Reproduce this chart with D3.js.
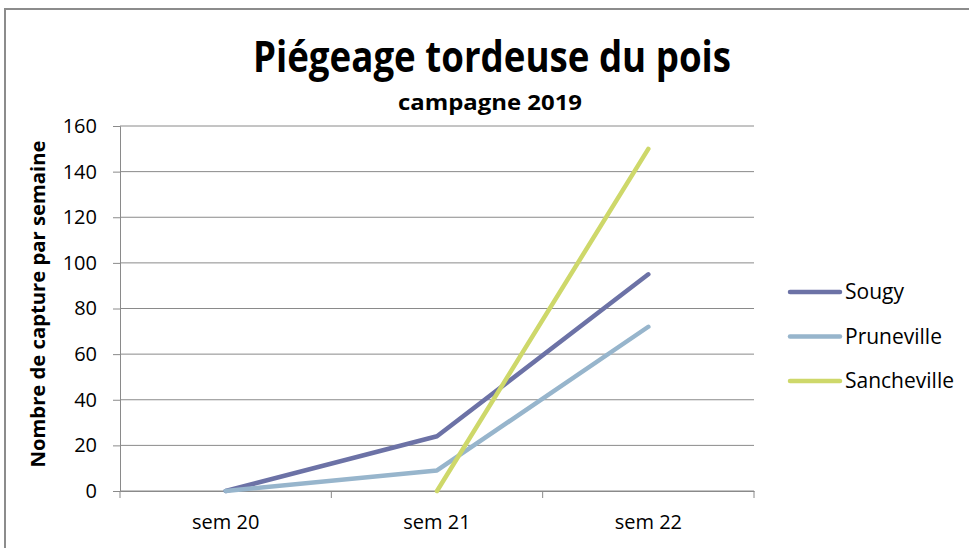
<!DOCTYPE html>
<html>
<head>
<meta charset="utf-8">
<script src="https://cdn.jsdelivr.net/npm/d3@7"></script>
<style>
  body { margin: 0; background: #fff; }
  text { font-family: "Open Sans", "Noto Sans", sans-serif; fill: #000; }
</style>
</head>
<body>
<div id="chart"></div>
<script>
// data
const weeks = ["sem 20", "sem 21", "sem 22"];
const sougy = [0, 24, 95];
const pruneville = [0, 9, 72];
const sancheville = [null, 0, 150];
const seriesNames = ["Sougy", "Pruneville", "Sancheville"];
const seriesColors = ["#6c72a6", "#97b5cc", "#ced86a"];
const yTicks = [0, 20, 40, 60, 80, 100, 120, 140, 160];

const width = 969, height = 548;
const plotLeft = 120, plotRight = 754, plotTop = 126, plotBottom = 491;

const svg = d3.select("#chart").append("svg")
    .attr("width", width)
    .attr("height", height);

// outer frame
svg.append("rect")
    .attr("x", 5).attr("y", 9)
    .attr("width", 980).attr("height", 560)
    .attr("fill", "none")
    .attr("stroke", "#8c8c8c")
    .attr("stroke-width", 2);

const x = d3.scaleBand().domain(weeks).range([plotLeft, plotRight]);
const y = d3.scaleLinear().domain([0, 160]).range([plotBottom, plotTop]);

// gridlines
svg.append("g").selectAll("line")
    .data(yTicks)
    .enter().append("line")
    .attr("x1", plotLeft).attr("x2", plotRight)
    .attr("y1", d => y(d)).attr("y2", d => y(d))
    .attr("stroke", "#8a8a8a")
    .attr("stroke-width", 1);

// y axis
const yAxis = svg.append("g")
    .attr("transform", `translate(${plotLeft},0)`)
    .call(d3.axisLeft(y).tickValues(yTicks).tickSize(7).tickPadding(16));
yAxis.select(".domain").attr("stroke", "#8a8a8a");
yAxis.selectAll(".tick line").attr("stroke", "#8a8a8a");
yAxis.selectAll("text")
    .style("font-size", "20px")
    .attr("fill", "#000");

// x axis
const xAxis = svg.append("g")
    .attr("transform", `translate(0,${plotBottom})`)
    .call(d3.axisBottom(x).tickSize(0).tickPadding(24));
xAxis.select(".domain").attr("stroke", "#8a8a8a");
xAxis.selectAll("text")
    .style("font-size", "20px")
    .attr("fill", "#000");
// category boundary ticks
svg.append("g").selectAll("line")
    .data(weeks.concat(["end"]))
    .enter().append("line")
    .attr("x1", (d, i) => plotLeft + i * x.step())
    .attr("x2", (d, i) => plotLeft + i * x.step())
    .attr("y1", plotBottom).attr("y2", plotBottom + 7)
    .attr("stroke", "#8a8a8a");

// lines
const allSeries = [sougy, pruneville, sancheville];
const line = d3.line()
    .defined(d => d != null)
    .x((d, i) => x(weeks[i]) + x.bandwidth() / 2)
    .y(d => y(d));

svg.append("g").selectAll("path")
    .data(allSeries)
    .enter().append("path")
    .attr("d", d => line(d))
    .attr("fill", "none")
    .attr("stroke", (d, i) => seriesColors[i])
    .attr("stroke-width", 4.5)
    .attr("stroke-linecap", "round")
    .attr("stroke-linejoin", "round");

// titles
svg.append("text")
    .attr("x", 492).attr("y", 72)
    .attr("text-anchor", "middle")
    .attr("textLength", 478)
    .attr("lengthAdjust", "spacingAndGlyphs")
    .style("font-size", "43px")
    .style("font-weight", "bold")
    .text("Piégeage tordeuse du pois");

svg.append("text")
    .attr("x", 490).attr("y", 110)
    .attr("text-anchor", "middle")
    .attr("textLength", 184)
    .attr("lengthAdjust", "spacingAndGlyphs")
    .style("font-size", "22px")
    .style("font-weight", "bold")
    .text("campagne 2019");

svg.append("text")
    .attr("transform", "translate(45,304) rotate(-90)")
    .attr("text-anchor", "middle")
    .attr("textLength", 327)
    .attr("lengthAdjust", "spacingAndGlyphs")
    .style("font-size", "19px")
    .style("font-weight", "bold")
    .text("Nombre de capture par semaine");

// legend
const legend = svg.append("g").selectAll("g")
    .data(seriesNames)
    .enter().append("g")
    .attr("transform", (d, i) => `translate(790,${292 + i * 44.5})`);
legend.append("line")
    .attr("x1", 0).attr("x2", 50)
    .attr("stroke", (d, i) => seriesColors[i])
    .attr("stroke-width", 4.5)
    .attr("stroke-linecap", "round");
legend.append("text")
    .attr("x", 55).attr("y", 7)
    .style("font-size", "21px")
    .text(d => d);
</script>
</body>
</html>
